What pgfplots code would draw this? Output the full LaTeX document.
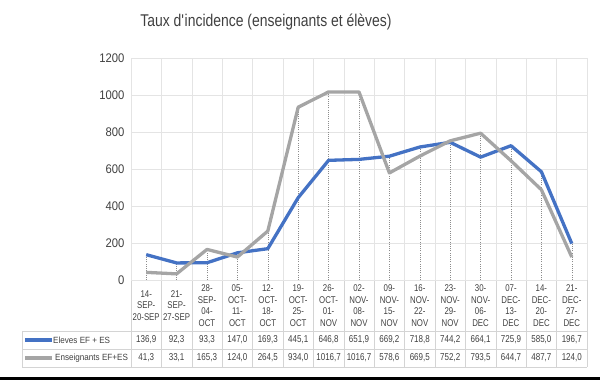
\documentclass[border=0pt]{standalone}
\usepackage{fontspec}
\setmainfont{Liberation Sans}[FakeStretch=0.9]
\newfontfamily\titlefont{Liberation Sans}[FakeStretch=0.82]
\newfontfamily\tabfont{Liberation Sans}[FakeStretch=0.8]
\usepackage{pgfplots}
\pgfplotsset{compat=1.18}
\definecolor{blueS}{HTML}{4472C4}
\definecolor{greyS}{HTML}{A5A5A5}
\definecolor{gridc}{HTML}{E4E4E4}
\definecolor{tablec}{HTML}{D4D4D4}
\definecolor{axisc}{HTML}{BFBFBF}
\definecolor{textc}{HTML}{404040}
\definecolor{dropc}{HTML}{8C8C8C}
\begin{document}
\begin{tikzpicture}[x=1pt,y=1pt]
\path[use as bounding box] (0,0) rectangle (600,380);
% table lines (drawn first)
\foreach \k in {0,...,15} {\draw[tablec,line width=0.6pt] ({131+30.4*\k},100) -- ({131+30.4*\k},13);}
\draw[tablec,line width=0.6pt] (22,49) -- (587,49);
\draw[tablec,line width=0.6pt] (22,31) -- (587,31);
\draw[tablec,line width=0.6pt] (22,13) -- (587,13);
\draw[tablec,line width=0.6pt] (22,49) -- (22,13);
\begin{axis}[
  at={(131pt,100pt)}, anchor=south west,
  width=456pt, height=222pt, scale only axis,
  xmin=-0.5, xmax=14.5, ymin=0, ymax=1200,
  axis line style={draw=none},
  ytick={200,400,...,1200},
  extra y ticks={0},
  extra y tick style={grid style={draw=axisc,line width=0.8pt}},
  ymajorgrids, major grid style={draw=gridc,line width=0.6pt},
  minor xtick={-0.5,0.5,...,14.5}, xminorgrids,
  minor grid style={draw=gridc,line width=0.6pt},
  major tick length=0pt, minor tick length=0pt,
  /pgf/number format/assume math mode=true,
  /pgf/number format/1000 sep={},
  yticklabel style={font=\fontsize{12.5}{14}\selectfont, text=textc, xshift=-3pt},
  xtick={0,...,14},
  xticklabels={{14-\\SEP-\\20-SEP},{21-\\SEP-\\27-SEP},{28-\\SEP-\\04-\\OCT},{05-\\OCT-\\11-\\OCT},{12-\\OCT-\\18-\\OCT},{19-\\OCT-\\25-\\OCT},{26-\\OCT-\\01-\\NOV},{02-\\NOV-\\08-\\NOV},{09-\\NOV-\\15-\\NOV},{16-\\NOV-\\22-\\NOV},{23-\\NOV-\\29-\\NOV},{30-\\NOV-\\06-\\DEC},{07-\\DEC-\\13-\\DEC},{14-\\DEC-\\20-\\DEC},{21-\\DEC-\\27-\\DEC}},
  xticklabel style={font=\tabfont\fontsize{9.8}{11.5}\selectfont, text=textc, align=center, anchor=center, yshift=-25.5pt},
]
\addplot[ycomb, draw=dropc, line width=0.5pt, dash pattern=on 1pt off 1.2pt, mark=none] coordinates {
(0,136.9) (1,92.3) (2,165.3) (3,147.0) (4,264.5) (5,934.0) (6,1016.7) (7,1016.7) (8,669.2) (9,718.8) (10,752.2) (11,793.5) (12,725.9) (13,585.0) (14,196.7)};
\addplot[draw=blueS, line width=3.3pt, line join=round, mark=none] coordinates {
(0,136.9) (1,92.3) (2,93.3) (3,147.0) (4,169.3) (5,445.1) (6,646.8) (7,651.9) (8,669.2) (9,718.8) (10,744.2) (11,664.1) (12,725.9) (13,585.0) (14,196.7)};
\addplot[draw=greyS, line width=3.3pt, line join=round, mark=none] coordinates {
(0,41.3) (1,33.1) (2,165.3) (3,124.0) (4,264.5) (5,934.0) (6,1016.7) (7,1016.7) (8,578.6) (9,669.5) (10,752.2) (11,793.5) (12,644.7) (13,487.7) (14,124.0)};
\end{axis}
% title
\node[text=textc, font=\titlefont\fontsize{17}{20}\selectfont] at (266,358) {Taux d\textquotesingle incidence (enseignants et élèves)};
% table values
\foreach \v [count=\i from 0] in {{136,9},{92,3},{93,3},{147,0},{169,3},{445,1},{646,8},{651,9},{669,2},{718,8},{744,2},{664,1},{725,9},{585,0},{196,7}}
  {\node[text=textc, font=\tabfont\fontsize{10}{11}\selectfont] at ({131+30.4*(\i+0.5)},40) {\v};}
\foreach \v [count=\i from 0] in {{41,3},{33,1},{165,3},{124,0},{264,5},{934,0},{1016,7},{1016,7},{578,6},{669,5},{752,2},{793,5},{644,7},{487,7},{124,0}}
  {\node[text=textc, font=\tabfont\fontsize{10}{11}\selectfont] at ({131+30.4*(\i+0.5)},22) {\v};}
% legend keys
\draw[blueS, line width=3.3pt] (25,40) -- (52,40);
\draw[greyS, line width=3.3pt] (25,22) -- (52,22);
\node[anchor=west, text=textc, font=\fontsize{9}{11}\selectfont, inner sep=1pt] at (52,40) {Eleves EF + ES};
\node[anchor=west, text=textc, font=\fontsize{9}{11}\selectfont, inner sep=1pt] at (54,22) {Enseignants EF+ES};
% bottom black bar
\fill[black] (0,0) rectangle (600,3);
\end{tikzpicture}
\end{document}
